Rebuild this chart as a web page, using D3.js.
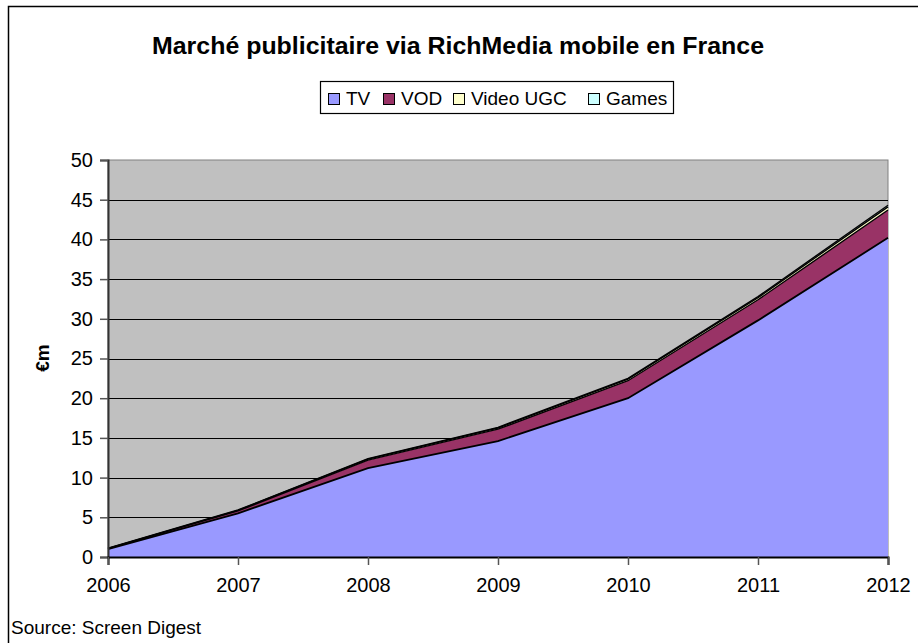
<!DOCTYPE html>
<html>
<head>
<meta charset="utf-8">
<script src="https://cdn.jsdelivr.net/npm/d3@7"></script>
<style>
  body { margin: 0; background: #fff; }
  text { font-family: "Liberation Sans", Arial, sans-serif; fill: #000; }
</style>
</head>
<body>
<svg width="918" height="643"></svg>
<script>
var years = [2006, 2007, 2008, 2009, 2010, 2011, 2012];
var tv    = [1.0, 5.5, 11.2, 14.6, 20.0, 29.8, 40.2];
var vod   = [0.05, 0.3, 1.0, 1.5, 2.2, 2.6, 3.5];
var ugc   = [0.03, 0.08, 0.12, 0.15, 0.2, 0.25, 0.4];
var games = [0.02, 0.04, 0.05, 0.08, 0.1, 0.15, 0.2];
var seriesNames = ["TV", "VOD", "Video UGC", "Games"];
var colors = ["#9999ff", "#993366", "#ffffcc", "#ccffff"];
var yTicks = [0, 5, 10, 15, 20, 25, 30, 35, 40, 45, 50];

var table = years.map(function(y, i) {
  return { year: y, "TV": tv[i], "VOD": vod[i], "Video UGC": ugc[i], "Games": games[i] };
});

var svg = d3.select("svg");

// outer chart border
svg.append("rect")
  .attr("x", 8.5).attr("y", 6.5)
  .attr("width", 930).attr("height", 660)
  .attr("fill", "#fff").attr("stroke", "#000").attr("stroke-width", 1.5);

var plotL = 108, plotR = 888, plotT = 160, plotB = 557;

var x = d3.scaleLinear().domain([2006, 2012]).range([plotL, plotR]);
var y = d3.scaleLinear().domain([0, 50]).range([plotB, plotT]);

// plot area
svg.append("rect")
  .attr("x", plotL).attr("y", plotT)
  .attr("width", plotR - plotL).attr("height", plotB - plotT)
  .attr("fill", "#c0c0c0").attr("stroke", "#808080").attr("stroke-width", 1);

// gridlines
svg.append("g")
  .selectAll("line")
  .data(yTicks.slice(1, -1))
  .enter()
  .append("line")
  .attr("x1", plotL).attr("x2", plotR)
  .attr("y1", function(d) { return Math.round(y(d)) + 0.5; })
  .attr("y2", function(d) { return Math.round(y(d)) + 0.5; })
  .attr("stroke", "#000").attr("stroke-width", 1.2);

var stacked = d3.stack().keys(seriesNames)(table);

var area = d3.area()
  .x(function(d) { return x(d.data.year); })
  .y0(function(d) { return y(d[0]); })
  .y1(function(d) { return y(d[1]); });

var line = d3.line()
  .x(function(d) { return x(d.data.year); })
  .y(function(d) { return y(d[1]); });

svg.append("g")
  .selectAll("path")
  .data(stacked)
  .enter()
  .append("path")
  .attr("d", area)
  .attr("fill", function(d, i) { return colors[i]; });

svg.append("g")
  .selectAll("path")
  .data(stacked)
  .enter()
  .append("path")
  .attr("d", line)
  .attr("fill", "none")
  .attr("stroke", "#000")
  .attr("stroke-width", function(d, i) { return i == 0 ? 1.8 : 1.4; });

// axes
var yAxis = svg.append("g")
  .attr("transform", "translate(" + plotL + ",0)")
  .call(d3.axisLeft(y).tickValues(yTicks).tickSize(8).tickPadding(7));
var xAxis = svg.append("g")
  .attr("transform", "translate(0," + plotB + ")")
  .call(d3.axisBottom(x).tickValues(years).tickFormat(d3.format("d")).tickSize(8).tickPadding(13));

[yAxis, xAxis].forEach(function(ax) {
  ax.select(".domain").attr("stroke", "#333").attr("stroke-width", 2);
  ax.selectAll(".tick line").attr("stroke", "#555").attr("stroke-width", 1.5);
  ax.selectAll(".tick text").style("font-size", "20px").attr("fill", "#000");
});
xAxis.select(".domain").attr("stroke", "#000");

// title
svg.append("text")
  .attr("x", 458).attr("y", 54)
  .attr("text-anchor", "middle")
  .attr("textLength", 612).attr("lengthAdjust", "spacingAndGlyphs")
  .style("font-size", "23px").style("font-weight", "bold")
  .text("Marché publicitaire via RichMedia mobile en France");

// y label
svg.append("text")
  .attr("transform", "translate(49,358) rotate(-90)")
  .attr("text-anchor", "middle")
  .style("font-size", "19px").style("font-weight", "bold")
  .text("€m");

// source
svg.append("text")
  .attr("x", 11).attr("y", 634)
  .style("font-size", "19px")
  .text("Source: Screen Digest");

// legend
var legend = svg.append("g");
legend.append("rect")
  .attr("x", 320.5).attr("y", 81.5)
  .attr("width", 353).attr("height", 32)
  .attr("fill", "#fff").attr("stroke", "#000").attr("stroke-width", 1.2);

var legendX = [328, 383, 453, 588];
var items = legend.selectAll("g.item")
  .data(seriesNames)
  .enter()
  .append("g")
  .attr("transform", function(d, i) { return "translate(" + legendX[i] + ",0)"; });
items.append("rect")
  .attr("x", 0.5).attr("y", 93.5)
  .attr("width", 11).attr("height", 11)
  .attr("fill", function(d, i) { return colors[i]; })
  .attr("stroke", "#000").attr("stroke-width", 1);
items.append("text")
  .attr("x", 18).attr("y", 105)
  .style("font-size", "19px")
  .text(function(d) { return d; });
</script>
</body>
</html>
